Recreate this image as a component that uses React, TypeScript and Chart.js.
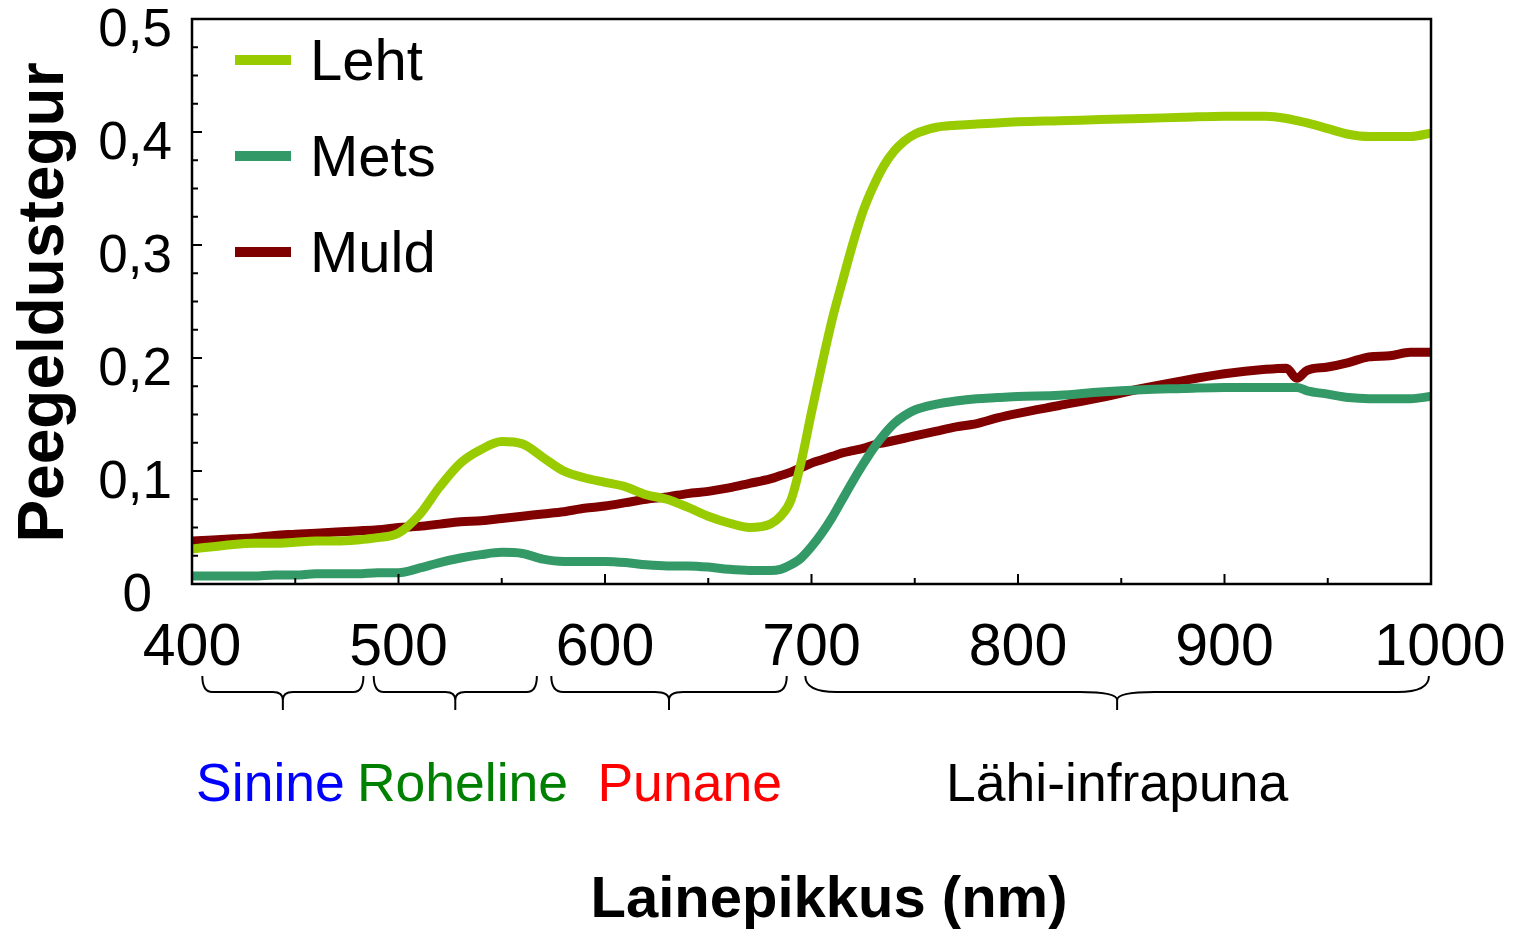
import { useEffect, useRef } from 'react';
import { Chart, registerables } from 'chart.js';

Chart.register(...registerables);

// ---------- data ----------
const wavelengths = [
  400, 410, 420, 430, 440, 450, 460, 470, 480, 490,
  500, 510, 520, 530, 540, 550, 560, 570, 580, 590,
  600, 610, 620, 630, 640, 650, 660, 670, 680, 685,
  690, 695, 700, 705, 710, 715, 720, 725, 730, 735,
  740, 745, 750, 760, 770, 780, 790, 800, 820, 840,
  860, 880, 900, 920, 930, 935, 940, 950, 960, 970,
  980, 990, 1000,
];

const lehtValues = [
  0.031, 0.033, 0.035, 0.036, 0.036, 0.037, 0.038, 0.038, 0.039, 0.041,
  0.045, 0.061, 0.086, 0.107, 0.119, 0.126, 0.124, 0.112, 0.100, 0.094,
  0.090, 0.086, 0.079, 0.075, 0.068, 0.060, 0.054, 0.050, 0.053, 0.060,
  0.074, 0.108, 0.152, 0.194, 0.234, 0.268, 0.301, 0.330, 0.352, 0.370,
  0.383, 0.392, 0.398, 0.404, 0.406, 0.407, 0.408, 0.409, 0.410, 0.411,
  0.412, 0.413, 0.414, 0.414, 0.412, 0.410, 0.408, 0.403, 0.398, 0.396,
  0.396, 0.396, 0.399,
];

const metsValues = [
  0.007, 0.007, 0.007, 0.007, 0.008, 0.008, 0.009, 0.009, 0.009, 0.010,
  0.010, 0.014, 0.019, 0.023, 0.026, 0.028, 0.027, 0.022, 0.020, 0.020,
  0.020, 0.019, 0.017, 0.016, 0.016, 0.015, 0.013, 0.012, 0.012, 0.013,
  0.017, 0.023, 0.033, 0.045, 0.059, 0.075, 0.091, 0.106, 0.120, 0.132,
  0.142, 0.149, 0.154, 0.159, 0.162, 0.164, 0.165, 0.166, 0.167, 0.170,
  0.172, 0.173, 0.174, 0.174, 0.174, 0.174, 0.171, 0.168, 0.165, 0.164,
  0.164, 0.164, 0.166,
];

const muldValues = [
  0.038, 0.039, 0.040, 0.041, 0.043, 0.044, 0.045, 0.046, 0.047, 0.048,
  0.050, 0.051, 0.053, 0.055, 0.056, 0.058, 0.060, 0.062, 0.064, 0.067,
  0.069, 0.072, 0.075, 0.077, 0.080, 0.082, 0.085, 0.089, 0.093, 0.096,
  0.099, 0.103, 0.107, 0.110, 0.113, 0.116, 0.118, 0.120, 0.123, 0.125,
  0.127, 0.129, 0.131, 0.135, 0.139, 0.142, 0.147, 0.151, 0.158, 0.165,
  0.173, 0.180, 0.186, 0.190, 0.191, 0.182, 0.189, 0.192, 0.196, 0.201,
  0.202, 0.205, 0.205,
];

const seriesNames = ['Leht', 'Mets', 'Muld'];
const seriesColors = ['#99CC00', '#339966', '#800000'];
const seriesValues = [lehtValues, metsValues, muldValues];

const xTickValues = [400, 500, 600, 700, 800, 900, 1000];
const xTickLabels = ['400', '500', '600', '700', '800', '900', '1000'];
const yTickValues = [0, 0.1, 0.2, 0.3, 0.4, 0.5];
const yTickLabels = ['0', '0,1', '0,2', '0,3', '0,4', '0,5'];

const bandNames = ['Sinine', 'Roheline', 'Punane', 'Lähi-infrapuna'];
const bandColors = ['#0000FF', '#008000', '#FF0000', '#000000'];
const bandStart = [405, 488, 574, 697];
const bandEnd = [483, 567, 688, 999];
const bandLabelAt = [438, 531, 641, 848];

const xTitle = 'Lainepikkus (nm)';
const yTitle = 'Peegeldustegur';

const FONT = "'Liberation Sans', Arial, Helvetica, sans-serif";

function drawBrace(ctx: CanvasRenderingContext2D, x1: number, x2: number) {
  const top = 676;
  const h = 692;
  const tip = 710;
  const w = x2 - x1;
  const xm = (x1 + x2) / 2;
  const rEnd = Math.max(10, w * 0.05);
  const rTip = Math.max(10, w * 0.06);
  ctx.beginPath();
  ctx.moveTo(x1, top);
  ctx.quadraticCurveTo(x1, h, x1 + rEnd, h);
  ctx.lineTo(xm - rTip, h);
  ctx.quadraticCurveTo(xm, h, xm, h + 8);
  ctx.lineTo(xm, tip);
  ctx.moveTo(xm, h + 8);
  ctx.quadraticCurveTo(xm, h, xm + rTip, h);
  ctx.lineTo(x2 - rEnd, h);
  ctx.quadraticCurveTo(x2, h, x2, top);
  ctx.stroke();
}

const decorPlugin = {
  id: 'decor',
  afterDraw(chart: any) {
    const ctx: CanvasRenderingContext2D = chart.ctx;
    const area = chart.chartArea;
    const xs = chart.scales.x;
    const ys = chart.scales.y;
    ctx.save();
    ctx.strokeStyle = '#000';
    ctx.fillStyle = '#000';

    // frame
    ctx.lineWidth = 2.5;
    ctx.strokeRect(area.left, area.top, area.right - area.left, area.bottom - area.top);

    // y ticks (inward)
    ctx.lineWidth = 2;
    for (let v = 0; v <= 0.5001; v += 0.025) {
      const major = Math.abs(v * 10 - Math.round(v * 10)) < 1e-6;
      const py = ys.getPixelForValue(v);
      ctx.beginPath();
      ctx.moveTo(area.left, py);
      ctx.lineTo(area.left + (major ? 10 : 6), py);
      ctx.stroke();
    }
    // x ticks (inward)
    for (let v = 400; v <= 1000; v += 50) {
      const major = v % 100 === 0;
      const px = xs.getPixelForValue(v);
      ctx.beginPath();
      ctx.moveTo(px, area.bottom);
      ctx.lineTo(px, area.bottom - (major ? 10 : 6));
      ctx.stroke();
    }

    // y tick labels
    ctx.font = `53px ${FONT}`;
    ctx.textAlign = 'right';
    ctx.textBaseline = 'alphabetic';
    yTickValues.forEach((v, i) => {
      const py = ys.getPixelForValue(v);
      const xRight = v === 0 ? area.left - 40 : area.left - 20;
      ctx.fillText(yTickLabels[i], xRight, py + 27);
    });

    // x tick labels
    ctx.font = `59px ${FONT}`;
    ctx.textAlign = 'center';
    xTickValues.forEach((v, i) => {
      const px = xs.getPixelForValue(v) + (i === xTickValues.length - 1 ? 9 : 0);
      ctx.fillText(xTickLabels[i], px, area.bottom + 81);
    });

    // braces
    ctx.lineWidth = 2;
    bandStart.forEach((s, i) => {
      drawBrace(ctx, xs.getPixelForValue(s), xs.getPixelForValue(bandEnd[i]));
    });

    // band labels
    ctx.font = `53.5px ${FONT}`;
    ctx.textAlign = 'center';
    bandNames.forEach((name, i) => {
      ctx.fillStyle = bandColors[i];
      ctx.fillText(name, xs.getPixelForValue(bandLabelAt[i]), 801);
    });

    // axis titles
    ctx.fillStyle = '#000';
    ctx.font = `bold 58px ${FONT}`;
    ctx.textAlign = 'center';
    ctx.fillText(xTitle, 829, 917);

    ctx.save();
    ctx.translate(63, (area.top + area.bottom) / 2 + 1);
    ctx.rotate(-Math.PI / 2);
    ctx.font = `bold 64px ${FONT}`;
    ctx.textAlign = 'center';
    ctx.fillText(yTitle, 0, 0);
    ctx.restore();

    // legend
    const rows = [60, 156, 252];
    ctx.font = `58px ${FONT}`;
    ctx.textAlign = 'left';
    chart.data.datasets.forEach((ds: any, i: number) => {
      const y = rows[i];
      ctx.strokeStyle = ds.borderColor;
      ctx.lineWidth = 10;
      ctx.beginPath();
      ctx.moveTo(235, y);
      ctx.lineTo(291, y);
      ctx.stroke();
      ctx.fillStyle = '#000';
      ctx.fillText(ds.label, 310, y + 20);
    });

    ctx.restore();
  },
};

export default function App() {
  const canvasRef = useRef<HTMLCanvasElement | null>(null);

  useEffect(() => {
    document.body.style.margin = '0';
    const canvas = canvasRef.current;
    if (!canvas) return;
    const chart = new Chart(canvas, {
      type: 'line',
      data: {
        datasets: seriesNames.map((name, i) => ({
          label: name,
          data: wavelengths.map((w, j) => ({ x: w, y: seriesValues[i][j] })),
          borderColor: seriesColors[i],
          backgroundColor: seriesColors[i],
          borderWidth: 9,
          pointRadius: 0,
          fill: false,
          cubicInterpolationMode: 'monotone' as const,
          borderJoinStyle: 'round' as const,
          borderCapStyle: 'butt' as const,
        })),
      },
      options: {
        responsive: false,
        animation: false,
        layout: { padding: { left: 192, top: 19, right: 85, bottom: 346 } },
        plugins: {
          legend: { display: false },
          tooltip: { enabled: false },
        },
        events: [],
        scales: {
          x: { type: 'linear', min: 400, max: 1000, display: false },
          y: { type: 'linear', min: 0, max: 0.5, display: false },
        },
      },
      plugins: [decorPlugin],
    });
    return () => chart.destroy();
  }, []);

  return (
    <canvas
      ref={canvasRef}
      width={1516}
      height={930}
      style={{ display: 'block', width: '1516px', height: '930px', background: '#fff' }}
    />
  );
}
